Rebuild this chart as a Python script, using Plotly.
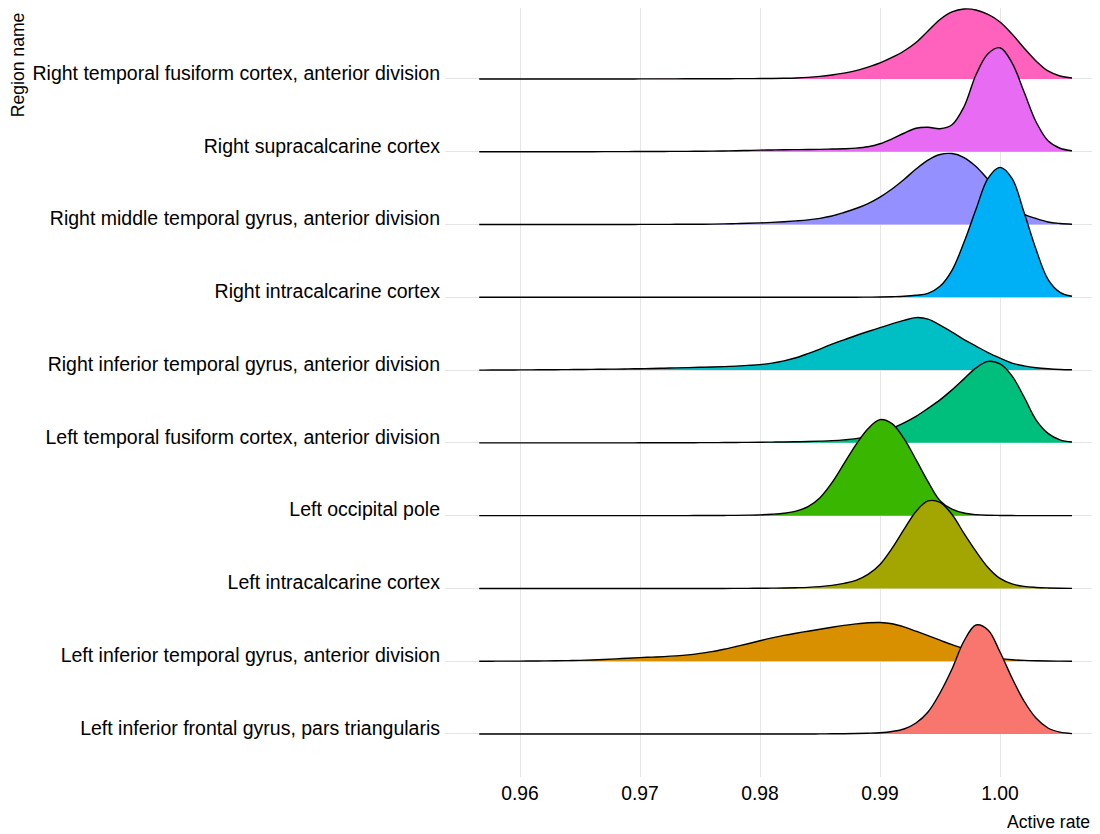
import plotly.graph_objects as go

# ---------------- data ----------------
regions = [
    "Left inferior frontal gyrus, pars triangularis",
    "Left inferior temporal gyrus, anterior division",
    "Left intracalcarine cortex",
    "Left occipital pole",
    "Left temporal fusiform cortex, anterior division",
    "Right inferior temporal gyrus, anterior division",
    "Right intracalcarine cortex",
    "Right middle temporal gyrus, anterior division",
    "Right supracalcarine cortex",
    "Right temporal fusiform cortex, anterior division",
]

colors = ["#F8766D", "#D89000", "#A3A500", "#39B600", "#00BF7D",
          "#00BFC4", "#00B0F6", "#9590FF", "#E76BF3", "#FF62BC"]

# evaluation grid of the density estimates (active rate)
rate_grid = [0.9566,
             0.957, 0.958, 0.959, 0.960, 0.961, 0.962, 0.963, 0.964, 0.965,
             0.966, 0.967, 0.968, 0.969, 0.970, 0.971, 0.972, 0.973, 0.974, 0.975,
             0.976, 0.977, 0.978, 0.979, 0.980, 0.981, 0.982, 0.983, 0.984, 0.985,
             0.986, 0.987, 0.988, 0.989, 0.990, 0.991, 0.992, 0.993, 0.994, 0.995,
             0.996, 0.997, 0.998, 0.999, 1.000, 1.001, 1.002, 1.003, 1.004, 1.005, 1.006]

# estimated ridge heights (scaled density, 72.8 units = one row spacing)
dens_left_inf_frontal = [
    0, 0, 0, 0, 0, 0, 0, 0, 0, 0,
    0, 0, 0, 0, 0, 0, 0, 0, 0, 0,
    0, 0, 0, 0, 0, 0, 0, 0, 0, 0.1,
    0.2, 0.3, 0.5, 0.8, 1.3, 2.5, 5, 11, 22, 41,
    65, 93, 109, 104, 82, 56, 33, 16, 6, 1.8, 0.4]
dens_left_inf_temporal = [
    0, 0, 0.05, 0.08, 0.1, 0.2, 0.3, 0.4, 0.6, 0.8,
    1.2, 1.7, 2.3, 3.0, 3.6, 4.1, 4.6, 5.3, 6.3, 7.8,
    9.6, 12, 14.7, 17.5, 20.5, 23.3, 25.8, 28, 30, 32,
    34, 35.8, 37.3, 38.4, 38.7, 37.5, 34.3, 30, 25.5, 21,
    16.5, 12.5, 8.5, 5, 2.8, 1.5, 0.8, 0.4, 0.2, 0.1, 0]
dens_left_intracalcarine = [
    0, 0, 0, 0, 0, 0, 0, 0, 0, 0,
    0, 0, 0, 0, 0, 0, 0, 0, 0, 0,
    0, 0, 0.05, 0.1, 0.2, 0.3, 0.4, 0.7, 1.1, 1.8,
    3, 5, 8, 14, 24, 40, 59, 77, 87.5, 86,
    74, 55, 37, 21, 10, 4.5, 2, 1, 0.5, 0.2, 0.1]
dens_left_occipital = [
    0, 0, 0, 0, 0, 0, 0, 0, 0, 0,
    0, 0, 0, 0, 0, 0, 0, 0, 0.05, 0.1,
    0.15, 0.2, 0.3, 0.5, 0.8, 1.4, 2.4, 4.5, 9, 18,
    33, 52, 71, 87, 96, 92, 77, 56, 34, 15,
    6.5, 2.6, 1, 0.4, 0.2, 0.1, 0, 0, 0, 0, 0]
dens_left_temp_fusiform = [
    0, 0, 0, 0, 0, 0, 0, 0, 0, 0,
    0, 0, 0, 0, 0.05, 0.05, 0.1, 0.1, 0.15, 0.2,
    0.25, 0.3, 0.4, 0.5, 0.6, 0.75, 0.9, 1.1, 1.3, 1.7,
    2.2, 3.0, 4.2, 6.5, 10, 14.5, 20, 26.5, 34.5, 43,
    53, 64, 75, 81.5, 79, 67, 46, 23, 9.5, 3, 0.8]
dens_right_inf_temporal = [
    0, 0, 0.05, 0.1, 0.2, 0.25, 0.3, 0.4, 0.5, 0.6,
    0.7, 0.9, 1.0, 1.2, 1.4, 1.6, 1.9, 2.2, 2.5, 2.8,
    3.1, 3.5, 4.0, 4.7, 5.5, 7, 9.2, 12.3, 16.5, 21,
    26, 30.3, 34.6, 38.6, 42.4, 46.2, 49.7, 52.5, 51, 45,
    38, 30.5, 24, 17.5, 12, 7, 4.2, 2.4, 1.3, 0.6, 0.3]
dens_right_intracalcarine = [
    0, 0, 0, 0, 0, 0, 0, 0, 0, 0,
    0, 0, 0, 0, 0, 0, 0, 0, 0, 0,
    0, 0, 0, 0, 0, 0, 0, 0, 0, 0.05,
    0.05, 0.1, 0.1, 0.2, 0.3, 0.6, 1, 2, 4, 11,
    27, 55, 88, 119, 130, 119, 85, 48, 18, 5, 1]
dens_right_mid_temporal = [
    0, 0, 0, 0, 0, 0, 0, 0, 0, 0,
    0, 0, 0.05, 0.05, 0.1, 0.1, 0.15, 0.2, 0.25, 0.3,
    0.4, 0.6, 0.9, 1.2, 1.6, 2.1, 2.8, 3.6, 4.6, 6.2,
    8.5, 12, 16, 21, 27.5, 35.5, 45, 55.5, 64.5, 70,
    71, 67, 58, 45, 32, 20, 10.5, 6, 2.5, 1, 0.3]
dens_right_supracalcarine = [
    0, 0, 0, 0, 0, 0, 0, 0, 0, 0,
    0.05, 0.1, 0.1, 0.15, 0.2, 0.25, 0.3, 0.35, 0.4, 0.5,
    0.6, 0.8, 1.0, 1.3, 1.6, 1.8, 2.0, 2.1, 2.2, 2.4,
    2.7, 3.0, 3.6, 5.0, 8, 12.8, 18.5, 23.5, 24.5, 23,
    27, 45, 77, 98, 104, 89, 60, 30, 11, 3.5, 1]
dens_right_temp_fusiform = [
    0, 0, 0, 0, 0, 0, 0, 0, 0, 0,
    0, 0, 0, 0, 0.05, 0.05, 0.1, 0.1, 0.15, 0.2,
    0.2, 0.25, 0.3, 0.35, 0.4, 0.5, 0.7, 1.0, 1.6, 2.6,
    4, 5.8, 8.3, 11.8, 16, 21.5, 28, 36.5, 48, 59.5,
    67, 70, 69, 64.5, 57, 45, 31, 18, 8, 3, 1]

densities = [dens_left_inf_frontal, dens_left_inf_temporal, dens_left_intracalcarine,
             dens_left_occipital, dens_left_temp_fusiform, dens_right_inf_temporal,
             dens_right_intracalcarine, dens_right_mid_temporal,
             dens_right_supracalcarine, dens_right_temp_fusiform]

x_ticks = [0.96, 0.97, 0.98, 0.99, 1.00]
x_ticklabels = ["0.96", "0.97", "0.98", "0.99", "1.00"]

DENS_PER_ROW = 72.8
FONT = "Liberation Sans, Arial, Helvetica, sans-serif"

# ---------------- figure ----------------
fig = go.Figure()
for i in range(len(regions) - 1, -1, -1):
    base = [i] * len(rate_grid)
    ridge = [i + d / DENS_PER_ROW for d in densities[i]]
    fig.add_trace(go.Scatter(x=rate_grid, y=base, mode="lines",
                             line=dict(width=0, color="rgba(0,0,0,0)"),
                             hoverinfo="skip", showlegend=False))
    fig.add_trace(go.Scatter(x=rate_grid, y=ridge, mode="lines", fill="tonexty",
                             fillcolor=colors[i], name=regions[i],
                             line=dict(color="black", width=1.4, shape="spline",
                                       smoothing=1.0),
                             showlegend=False))

# the page body has an 8px margin, so the figure is 8px smaller than the window
fig.update_layout(
    width=1092, height=826, autosize=False,
    margin=dict(l=437, r=0, t=0, b=57),
    plot_bgcolor="white", paper_bgcolor="white",
    font=dict(family=FONT, color="black"),
    xaxis=dict(range=[0.95375, 1.008333], tickvals=x_ticks, ticktext=x_ticklabels,
               showgrid=True, gridcolor="#E5E5E5", gridwidth=1, zeroline=False,
               showline=False, ticks="", tickfont=dict(size=19.3, color="black"),
               ticklabelstandoff=3),
    yaxis=dict(range=[-0.591, 9.975], tickvals=list(range(len(regions))),
               ticktext=regions, showgrid=True, gridcolor="#E5E5E5", gridwidth=1,
               zeroline=False, showline=False, ticks="",
               tickfont=dict(size=19.5, color="black"),
               ticklabelstandoff=4, ticklabelshift=-6),
    annotations=[
        dict(text="Active rate", xref="paper", yref="paper", x=0.9875, y=-0.0585,
             xanchor="right", yanchor="middle", showarrow=False,
             font=dict(size=17.6, family=FONT, color="black")),
        dict(text="Region name", xref="paper", yref="paper", x=-0.6519, y=0.9964,
             xanchor="center", yanchor="top", textangle=-90, showarrow=False,
             font=dict(size=17.6, family=FONT, color="black")),
    ],
)

fig.write_html("out.html")
